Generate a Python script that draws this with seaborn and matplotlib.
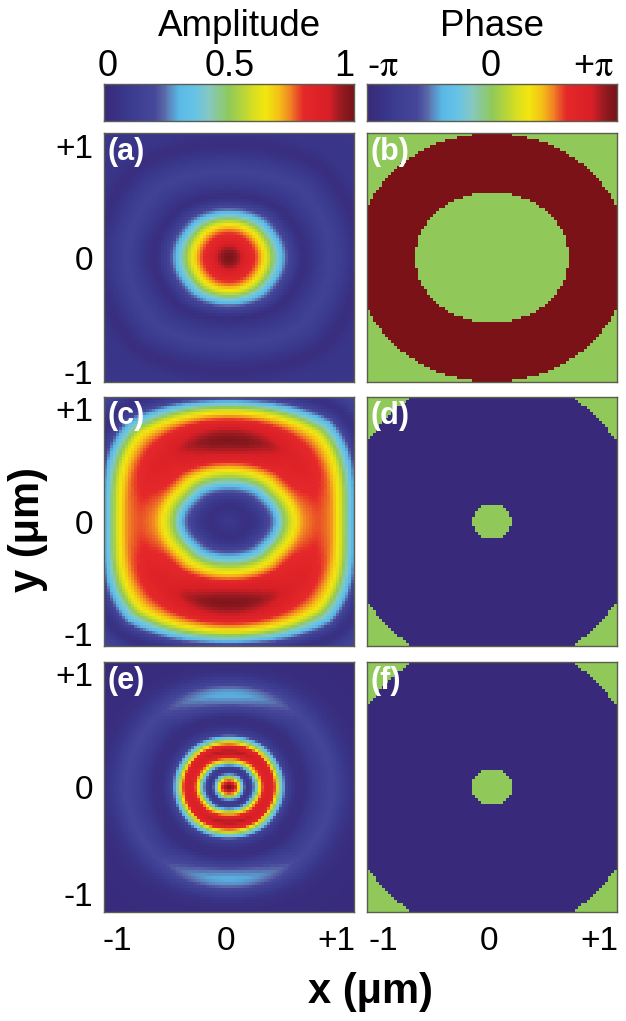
import numpy as np
import matplotlib
matplotlib.use("Agg")
import matplotlib.pyplot as plt
from matplotlib.colors import LinearSegmentedColormap
from matplotlib.transforms import ScaledTranslation
import seaborn as sns

# ---- data ----
cmap_stops = [0, .10, .20, .24, .30, .36, .42, .50, .60, .65, .70, .75, .80, .90, .96, 1]
cmap_colors = ["#38297a", "#3a3a8e", "#46479a", "#5a6aa8", "#5ab8e6", "#66c3e6", "#86c8c0",
               "#8fc95a", "#d8de20", "#f2e60e", "#f5c018", "#ef7c24", "#e5282a", "#d81f26",
               "#8e1a20", "#7a1218"]

# amplitude read along the x axis, the diagonal and the y axis of each panel
a_x_r = [0, .05, .12, .22, .30, .36, .43, .50, .60, .68, .82, .95, 1.05, 1.15, 1.45]
a_d_r = [0, .05, .12, .21, .29, .34, .40, .47, .56, .63, .80, .93, 1.05, 1.15, 1.45]
a_y_r = [0, .05, .12, .21, .28, .32, .37, .43, .49, .55, .70, .81, .92, 1.02, 1.45]
a_x_v = [1, .97, .88, .78, .62, .47, .30, .14, .02, .07, .16, .09, .02, .07, .08]
a_d_v = a_x_v
a_y_v = a_x_v

c_x_r = [0, .15, .26, .38, .43, .51, .60, .72, .83, .90, .95, 1.0, 1.05, 1.12, 1.22, 1.45]
c_d_r = [0, .13, .22, .32, .38, .44, .56, .74, .88, 1.01, 1.07, 1.14, 1.20, 1.27, 1.36, 1.45]
c_y_r = [0, .13, .20, .28, .34, .40, .52, .66, .79, .89, .94, .97, 1.02, 1.10, 1.25, 1.45]
c_x_v = [.10, .03, .10, .30, .47, .62, .74, .78, .74, .62, .47, .30, .14, .03, .10, .20]
c_d_v = [.10, .03, .10, .30, .47, .62, .82, .87, .80, .64, .47, .30, .12, .02, .14, .20]
c_y_v = [.10, .03, .10, .30, .47, .62, .88, 1.0, .88, .65, .47, .30, .14, .03, .10, .20]

e_x_r = [0, .035, .08, .107, .15, .21, .24, .28, .32, .36, .385, .43, .47, .53, .60, .66, .74, .83, .89, .95, 1.02, 1.10, 1.45]
e_d_r = [0, .03, .075, .10, .145, .195, .22, .26, .30, .35, .37, .42, .45, .52, .60, .66, .73, .81, .87, .93, 1.0, 1.08, 1.45]
e_y_r = [0, .03, .067, .09, .135, .18, .20, .24, .28, .33, .36, .40, .43, .50, .56, .62, .68, .74, .79, .85, .92, 1.0, 1.45]
e_x_v = [1, .92, .62, .32, .05, .32, .62, .84, .88, .84, .62, .32, .14, .04, .03, .08, .13, .18, .13, .08, .04, .02, .01]
e_d_v = [1, .92, .62, .32, .05, .32, .62, .84, .90, .84, .62, .32, .14, .04, .03, .08, .13, .19, .14, .08, .04, .02, .01]
e_y_v = [1, .92, .62, .32, .05, .32, .62, .84, .95, .84, .62, .32, .14, .04, .03, .13, .25, .30, .27, .15, .05, .02, .01]

b_inner_rx, b_inner_ry, b_outer_rx, b_outer_ry = .62, .53, 1.105, 1.01
d_inner_rx, d_inner_ry, d_outer_rx, d_outer_ry = .155, .14, 1.20, 1.20
f_inner_rx, f_inner_ry, f_outer_rx, f_outer_ry = .164, .14, 1.20, 1.20

panel_letters = ["(a)", "(b)", "(c)", "(d)", "(e)", "(f)"]
amp_tick_labels = ["0", "", "0.5", "", "1"]
phase_tick_labels = ["-$\\mathrm{\\pi}$", "", "0", "", "+$\\mathrm{\\pi}$"]
axis_tick_labels = ["-1", "0", "+1"]

# ---- set-up ----
sns.set_theme(style="white")
plt.rcParams["font.family"] = ["Liberation Sans", "DejaVu Sans"]
plt.rcParams["mathtext.fontset"] = "stix"
W, H = 626, 1021
fig = plt.figure(figsize=(W / 100, H / 100), dpi=100)
cmap = LinearSegmentedColormap.from_list("mjet", list(zip(cmap_stops, cmap_colors)), N=512)
EDGE = "#5c5c50"
N = 83
coords = np.linspace(-1, 1, N)
X, Y = np.meshgrid(coords, coords[::-1])
R = np.hypot(X, Y)
TH = np.degrees(np.arctan2(np.abs(Y), np.abs(X)))


def make_ax(x0, y0, x1, y1):
    return fig.add_axes([x0 / W, 1 - y1 / H, (x1 - x0) / W, (y1 - y0) / H])


def amp_field(xr, xv, dr, dv, yr, yv, sigma):
    """Resample the values read along three directions onto the cell grid."""
    xr, xv, dr, dv, yr, yv = map(np.asarray, (xr, xv, dr, dv, yr, yv))
    fine = np.arange(-.2, 1.6, .002)
    half = int(4 * sigma / .002)
    kernel = np.exp(-0.5 * (np.arange(-half, half + 1) * .002 / sigma) ** 2)
    kernel /= kernel.sum()
    field = np.zeros_like(R)
    bins = np.round(TH).astype(int)
    for b in np.unique(bins):
        if b <= 45:
            w = np.sin(np.radians(2 * b)) ** 2
            kr, kv = xr * (1 - w) + dr * w, xv * (1 - w) + dv * w
        else:
            w = np.sin(np.radians(2 * (b - 45)))
            kr, kv = dr * (1 - w) + yr * w, dv * (1 - w) + yv * w
        prof = np.interp(np.abs(fine), kr, kv)
        prof = np.convolve(prof, kernel, mode="same")
        field[bins == b] = np.interp(R[bins == b], fine, prof)
    return field


def phase_field(irx, iry, orx, ory):
    return ((X / irx) ** 2 + (Y / iry) ** 2 >= 1) & ((X / orx) ** 2 + (Y / ory) ** 2 < 1)


def shift(label, dx, dy):
    label.set_transform(label.get_transform() + ScaledTranslation(dx / 100, -dy / 100, fig.dpi_scale_trans))


def frame(ax):
    for s in ax.spines.values():
        s.set_visible(True)
        s.set_color(EDGE)
        s.set_linewidth(1.0)


def style_panel(ax, letter, left_labels, bottom_labels, top_shift=1, bot_shift=5, x_shifts=(0, 0, 0)):
    frame(ax)
    pos = lambda v: (np.asarray(v) + 1) / 2 * N
    ax.set_xticks(pos([-1, 0, 1]))
    ax.set_yticks(pos([-1, 0, 1]))
    ax.set_xticklabels(axis_tick_labels if bottom_labels else ["", "", ""], fontsize=24, rotation=0)
    ax.set_yticklabels(axis_tick_labels[::-1] if left_labels else ["", "", ""], fontsize=24, rotation=0)
    ax.tick_params(axis="y", which="major", length=0, pad=8, labelcolor="black")
    ax.tick_params(axis="x", which="major", length=0, pad=10, labelcolor="black")
    ax.set_xticks(pos([0]), minor=True)
    ax.set_yticks(pos([-.5, 0, .5]), minor=True)
    ax.tick_params(axis="both", which="minor", direction="in", length=2.5, width=0.8, color="#333333",
                   top=True, bottom=True, left=True, right=True)
    ax.text(0.015, 0.985, letter, transform=ax.transAxes, color="white", fontsize=22,
            fontweight="bold", ha="left", va="top")
    if left_labels:
        t = ax.get_yticklabels()
        t[0].set_va("top"); t[2].set_va("bottom")
        shift(t[0], 0, top_shift); shift(t[2], 0, bot_shift)
    if bottom_labels:
        t = ax.get_xticklabels()
        t[0].set_ha("left"); t[2].set_ha("right")
        for lab, dx in zip(t, x_shifts):
            shift(lab, dx, 0)


# ---- colour bars ----
gradient = np.linspace(0, 1, 256)[None, :]
for (x0, x1), labs, title, tx in [((104, 354), amp_tick_labels, "Amplitude", 239),
                                  ((367, 617), phase_tick_labels, "Phase", 492)]:
    ax = make_ax(x0, 84, x1, 121)
    sns.heatmap(gradient, ax=ax, cmap=cmap, vmin=0, vmax=1, cbar=False, xticklabels=False, yticklabels=False)
    frame(ax)
    ax.set_xticks(np.array([0, .25, .5, .75, 1]) * 256)
    ax.set_xticklabels(labs, fontsize=26, rotation=0)
    ax.set_yticks([])
    ax.tick_params(axis="x", direction="in", length=2.5, width=0.8, color="#333333", top=True, bottom=True,
                   labeltop=True, labelbottom=False, pad=0, labelcolor="black")
    t = ax.get_xticklabels()
    if labs is phase_tick_labels:
        t[0].set_ha("left"); t[4].set_ha("right"); shift(t[4], -4, 0); shift(t[2], -1, 0)
    else:
        shift(t[0], 4, 0); t[4].set_ha("right"); shift(t[2], 1, 0)
    fig.text(tx / W, 1 - 26 / H, title, fontsize=26.5, ha="center", va="center", color="black")

# ---- panels ----
rows = [(133, 382, 1, 9), (397, 646, 0, 7), (662, 912, 0, 1)]
amps = [amp_field(a_x_r, a_x_v, a_d_r, a_d_v, a_y_r, a_y_v, .018),
        amp_field(c_x_r, c_x_v, c_d_r, c_d_v, c_y_r, c_y_v, .022),
        amp_field(e_x_r, e_x_v, e_d_r, e_d_v, e_y_r, e_y_v, .008)]
rings = [(phase_field(b_inner_rx, b_inner_ry, b_outer_rx, b_outer_ry), np.pi),
         (phase_field(d_inner_rx, d_inner_ry, d_outer_rx, d_outer_ry), -np.pi),
         (phase_field(f_inner_rx, f_inner_ry, f_outer_rx, f_outer_ry), -np.pi)]

for i, (y0, y1, ts, bs) in enumerate(rows):
    last = i == 2
    ax = make_ax(104, y0, 354, y1)
    sns.heatmap(amps[i], ax=ax, cmap=cmap, vmin=0, vmax=1, cbar=False, xticklabels=False, yticklabels=False)
    style_panel(ax, panel_letters[2 * i], True, last, ts, bs, (-1, -3, 1))
    ax = make_ax(367, y0, 617, y1)
    mask, val = rings[i]
    sns.heatmap(np.where(mask, val, 0.0), ax=ax, cmap=cmap, vmin=-np.pi, vmax=np.pi, cbar=False,
                xticklabels=False, yticklabels=False)
    style_panel(ax, panel_letters[2 * i + 1], False, last, ts, bs, (1, -3, 1))

fig.text(370 / W, 1 - 992 / H, "x (μm)", fontsize=30, fontweight="bold", ha="center", va="center", color="black")
fig.text(28 / W, 1 - 530 / H, "y (μm)", fontsize=30, fontweight="bold", ha="center", va="center",
         rotation=90, color="black")

fig.savefig("out.png", dpi=100, facecolor="white")
